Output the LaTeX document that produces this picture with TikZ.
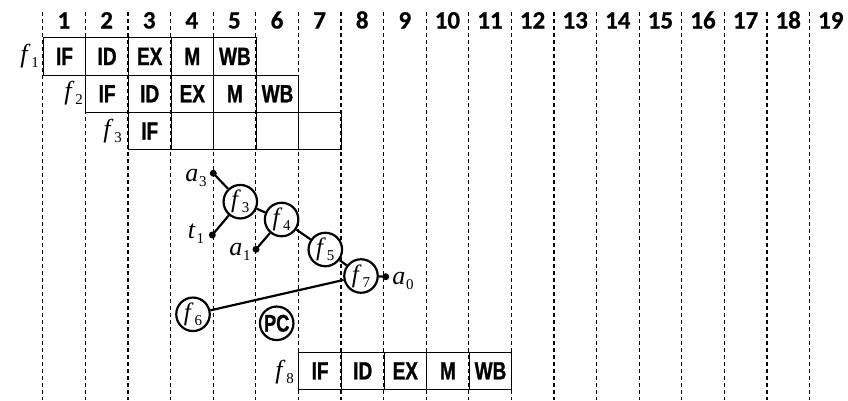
\documentclass[tikz,border=0pt]{standalone}
\usepackage{fontspec}
\setmainfont{Liberation Serif}
\newfontfamily\stagefont[FakeStretch=0.76,FakeBold=1]{Liberation Sans}
\newfontfamily\numfont[FakeBold=0.6]{Carlito}
\newcommand\fsb[2]{\textit{#1}\kern0.8pt\raisebox{-5pt}{\fontsize{15}{15}\selectfont #2}}
\begin{document}
\begin{tikzpicture}[x=1pt,y=-1pt,
  grid/.style={dash pattern=on 4pt off 3pt, line width=1.2pt},
  cell/.style={draw, line width=1pt, minimum width=42.6pt, minimum height=37.3pt, inner sep=0pt, anchor=north west, font=\stagefont\bfseries\fontsize{25}{25}\selectfont},
  op/.style={circle, draw, fill=white, line width=2.2pt, minimum size=33.5pt, inner sep=0pt, font=\fontsize{25}{25}\selectfont},
  pcop/.style={op, font=\stagefont\bfseries\fontsize{24}{24}\selectfont},
  dotn/.style={circle, fill, inner sep=0pt, minimum size=7pt},
  lbl/.style={inner sep=0pt, font=\fontsize{26}{26}\selectfont},
  wire/.style={line width=2.2pt},
  num/.style={font=\numfont\bfseries\fontsize{25}{25}\selectfont, anchor=base, inner sep=0pt}]
\useasboundingbox (0,0) rectangle (848,400);
% grid
\foreach \k in {0,...,18} \draw[grid] ({42.7+42.6*\k},12) -- ({42.7+42.6*\k},400);
% cycle numbers
\foreach \n in {1,...,19} \node[num] (n\n) at ({42.7+42.6*(\n-0.5)},28.5) {\n};
% row f1
\foreach \k/\t in {0/IF,1/ID,2/EX,3/M,4/WB} \node[cell] (ra\k) at ({42.7+42.6*\k},37.3) {\t};
% row f2
\foreach \k/\t in {1/IF,2/ID,3/EX,4/M,5/WB} \node[cell] (rb\k) at ({42.7+42.6*\k},74.6) {\t};
% row f3
\foreach \k/\t in {2/IF,3/,4/,5/,6/} \node[cell] (rc\k) at ({42.7+42.6*\k},111.9) {\t};
% row f8
\foreach \k/\t in {6/IF,7/ID,8/EX,9/M,10/WB} \node[cell] (rd\k) at ({42.7+42.6*\k},351.7) {\t};
% row labels
\node[lbl, anchor=east] (lf1) at (39,56) {\fsb{f}{1}};
\node[lbl, anchor=east] (lf2) at (83,93) {\fsb{f}{2}};
\node[lbl, anchor=east] (lf3) at (122,131) {\fsb{f}{3}};
\node[lbl, anchor=east] (lf8) at (294,372) {\fsb{f}{8}};
% operation circles
\node[op] (f3) at (240.3,201.7) {\fsb{f}{3}};
\node[op] (f4) at (281.6,219.5) {\fsb{f}{4}};
\node[op] (f5) at (325.3,249.5) {\fsb{f}{5}};
\node[op] (f7) at (361,276) {\fsb{f}{7}};
\node[op] (f6) at (193,314.3) {\fsb{f}{6}};
\node[pcop] (pc) at (276.7,323.3) {PC};
% terminals
\node[dotn] (a3d) at (213.3,173.3) {};
\node[dotn] (t1d) at (212.3,235) {};
\node[dotn] (a1d) at (256,249.3) {};
\node[dotn] (a0d) at (385.7,276.7) {};
\node[lbl] (a3l) at (196,178) {\fsb{a}{3}};
\node[lbl] (t1l) at (196,234) {\fsb{t}{1}};
\node[lbl] (a1l) at (240,252) {\fsb{a}{1}};
\node[lbl] (a0l) at (403,281) {\fsb{a}{0}};
% connectors
\draw[wire] (a3d.center) -- (f3);
\draw[wire] (t1d.center) -- (f3);
\draw[wire] (f3) -- (f4);
\draw[wire] (a1d.center) -- (f4);
\draw[wire] (f4) -- (f5);
\draw[wire] (f5) -- (f7);
\draw[wire] (f7) -- (a0d.center);
\draw[wire] (f6) -- (f7);
\end{tikzpicture}
\end{document}
